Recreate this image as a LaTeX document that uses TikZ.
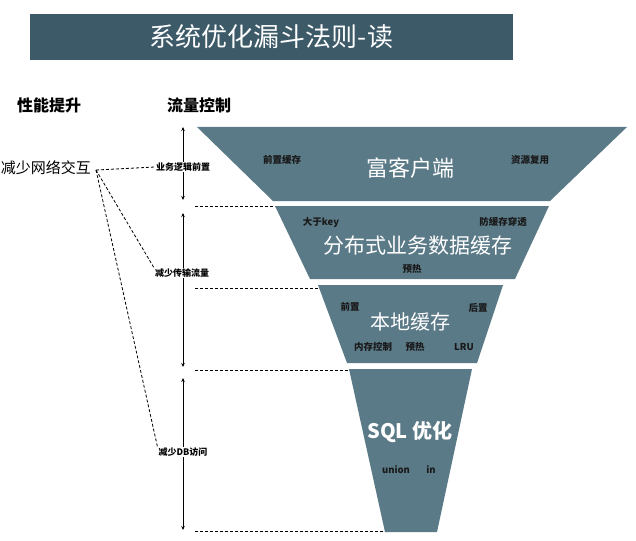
\documentclass[tikz,border=0pt]{standalone}
\usepackage{fontspec}
\setmainfont{Noto Sans CJK SC}
\usetikzlibrary{arrows.meta}
\definecolor{titleblue}{HTML}{3D5A69}
\definecolor{funnelblue}{HTML}{5B7A87}
\tikzset{
    funnel/.style={fill=funnelblue, draw=none},
    bigtext/.style={text=white, inner sep=0pt},
    smalltext/.style={text=black!90, inner sep=0pt, font=\bfseries\fontsize{9.5}{10}\selectfont},
    sidetext/.style={fill=white, inner sep=1pt, font=\bfseries\fontsize{9}{10}\selectfont},
    guide/.style={dash pattern=on 3pt off 2pt, line width=0.8pt},
    levelarrow/.style={{Stealth[length=4pt,width=3.5pt]}-{Stealth[length=4pt,width=3.5pt]}, line width=0.8pt}
}
\begin{document}
\begin{tikzpicture}[x=1pt, y=-1pt]
        \useasboundingbox (0,0) rectangle (636,540);
        % Title
        \node[fill=titleblue, text=white, minimum width=483pt, minimum height=46pt, inner sep=0pt,
              font=\fontsize{26}{28}\selectfont] (title) at (271.5,37) {系统优化漏斗法则-读};
        \node[font=\bfseries\fontsize{16}{18}\selectfont, inner sep=0pt] (perf) at (49,105) {性能提升};
        \node[font=\bfseries\fontsize{16}{18}\selectfont, inner sep=0pt] (flow) at (199,105) {流量控制};

        % Funnel corners
        \coordinate (f1a) at (197,127); \coordinate (f1b) at (627,127);
        \coordinate (f1c) at (550,201); \coordinate (f1d) at (273,201);
        \coordinate (f2a) at (275,206); \coordinate (f2b) at (549,206);
        \coordinate (f2c) at (515,279); \coordinate (f2d) at (310,279);
        \coordinate (f3a) at (318,285); \coordinate (f3b) at (503,285);
        \coordinate (f3c) at (477,363); \coordinate (f3d) at (347,363);
        \coordinate (f4a) at (349,369); \coordinate (f4b) at (472,369);
        \coordinate (f4c) at (437,532); \coordinate (f4d) at (385,532);

        % Funnel
        \fill[funnel] (f1a) -- (f1b) -- (f1c) -- (f1d) -- cycle;
        \fill[funnel] (f2a) -- (f2b) -- (f2c) -- (f2d) -- cycle;
        \fill[funnel] (f3a) -- (f3b) -- (f3c) -- (f3d) -- cycle;
        \fill[funnel] (f4a) -- (f4b) -- (f4c) -- (f4d) -- cycle;

        % Funnel texts
        \node[bigtext, font=\fontsize{22}{24}\selectfont] (client) at (410,168) {富客户端};
        \node[smalltext] (front) at (282,160) {前置缓存};
        \node[smalltext] (reuse) at (530,160) {资源复用};
        \node[bigtext, font=\fontsize{21}{23}\selectfont] (dist) at (418,246) {分布式业务数据缓存};
        \node[smalltext] (bigkey) at (321,222) {大于key};
        \node[smalltext] (pierce) at (503,222) {防缓存穿透};
        \node[smalltext] (warm) at (412,269) {预热};
        \node[bigtext, font=\fontsize{20}{22}\selectfont] (local) at (410,322) {本地缓存};
        \node[smalltext] (pre) at (350,307) {前置};
        \node[smalltext] (post) at (478,308) {后置};
        \node[smalltext] (mem) at (373,347) {内存控制};
        \node[smalltext] (warmb) at (415,347) {预热};
        \node[smalltext] (lru) at (464,347) {LRU};
        \node[bigtext, font=\bfseries\fontsize{20}{22}\selectfont] (sql) at (410,432) {SQL 优化};
        \node[smalltext] (union) at (396,470) {union};
        \node[smalltext] (in) at (431,470) {in};

        % Levels
        \coordinate (l1top) at (183,127); \coordinate (l1bot) at (183,200);
        \coordinate (l2top) at (183,213); \coordinate (l2bot) at (183,367);
        \coordinate (l3top) at (183,378); \coordinate (l3bot) at (183,530);
        \draw[levelarrow] (l1top) -- (l1bot);
        \draw[levelarrow] (l2top) -- (l2bot);
        \draw[levelarrow] (l3top) -- (l3bot);
        \node[sidetext] (logic) at (183,167) {业务逻辑前置};
        \node[sidetext] (traffic) at (182,273) {减少传输流量};
        \node[sidetext] (db) at (183,452) {减少DB访问};

        % Left side
        \node[anchor=east, inner sep=0pt, font=\fontsize{15}{16}\selectfont] (net) at (91,168) {减少网络交互};
        \coordinate (hub) at (96,170);
        \draw[guide] (hub) -- (logic.west);
        \draw[guide] (hub) -- (traffic.north west);
        \draw[guide] (hub) -- (db.north west);

        % Guide lines
        \coordinate (g1) at (195,206);
        \coordinate (g2) at (195,288);
        \coordinate (g3) at (195,370);
        \coordinate (g4) at (195,531);
        \draw[guide] (g1) -- (f2a);
        \draw[guide] (g2) -- (f3a |- g2);
        \draw[guide] (g3) -- (f4a |- g3);
        \draw[guide] (g4) -- (f4d |- g4);

    \end{tikzpicture}
\end{document}
